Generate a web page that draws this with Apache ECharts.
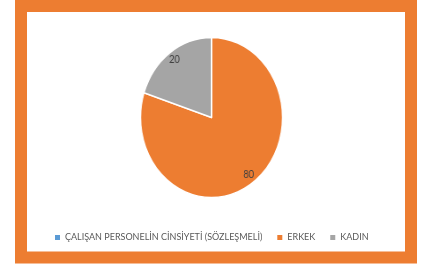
<!DOCTYPE html>
<html>
<head>
<meta charset="utf-8">
<script src="https://cdn.jsdelivr.net/npm/echarts@6/dist/echarts.min.js"></script>
<style>
  html, body { margin: 0; padding: 0; background: #fff; }
  #wrap { position: relative; width: 422px; height: 266px; overflow: hidden; }
  /* the pie is drawn in its own box and squeezed a little, the source chart is an ellipse */
  #pie {
    position: absolute; left: 131px; top: 37px; width: 161px; height: 161px;
    transform: scaleX(0.888); transform-origin: 50% 50%;
  }
  #main { position: absolute; left: 0; top: 0; width: 422px; height: 266px; }
</style>
</head>
<body>
<div id="wrap">
  <div id="pie"></div>
  <div id="main"></div>
</div>
<script>
const categories = ['ÇALIŞAN PERSONELİN CİNSİYETİ (SÖZLEŞMELİ)', 'ERKEK', 'KADIN']
const values = [0, 80, 20]
const colors = ['#5B9BD5', '#ED7D31', '#A5A5A5']

const fontFamily = 'Lato, "Open Sans", sans-serif'

const pieData = categories.map((name, i) => ({
  name: name,
  value: values[i],
  itemStyle: { color: colors[i] }
}))

// labels sit on a transparent ring so they land near the rim, like in Excel
const labelData = categories.map((name, i) => ({
  name: name,
  value: values[i],
  label: { show: values[i] > 0 }
}))

const pieChart = echarts.init(document.getElementById('pie'), null, { renderer: 'canvas' })
pieChart.setOption({
  animation: false,
  series: [
    {
      type: 'pie',
      center: [80.5, 80.5],
      radius: [0, 80],
      startAngle: 90,
      clockwise: true,
      silent: true,
      label: { show: false },
      labelLine: { show: false },
      itemStyle: { borderColor: '#fff', borderWidth: 1.5 },
      data: pieData
    },
    {
      type: 'pie',
      center: [80.5, 80.5],
      radius: [52, 84],
      startAngle: 90,
      clockwise: true,
      silent: true,
      itemStyle: { color: 'rgba(0,0,0,0)' },
      label: {
        position: 'inside',
        formatter: '{c}',
        color: '#404040',
        fontSize: 10.5,
        fontFamily: fontFamily
      },
      labelLine: { show: false },
      data: labelData
    }
  ]
})

const mainChart = echarts.init(document.getElementById('main'), null, { renderer: 'canvas' })
mainChart.setOption({
  animation: false,
  backgroundColor: 'transparent',
  color: colors,
  graphic: [
    {
      type: 'rect',
      shape: { x: 21, y: 6, width: 390, height: 251.5 },
      style: { fill: null, stroke: '#ED7D31', lineWidth: 12 },
      silent: true
    }
  ],
  legend: {
    left: 55,
    top: 233,
    padding: 0,
    icon: 'rect',
    itemWidth: 5,
    itemHeight: 5,
    itemGap: 15,
    selectedMode: false,
    textStyle: { color: '#595959', fontSize: 9, fontFamily: fontFamily },
    data: categories
  },
  series: [
    {
      // only feeds the legend, the visible pie is in #pie (radius 0 draws nothing)
      type: 'pie',
      radius: [0, 0],
      silent: true,
      label: { show: false },
      labelLine: { show: false },
      data: pieData
    }
  ]
})
</script>
</body>
</html>
